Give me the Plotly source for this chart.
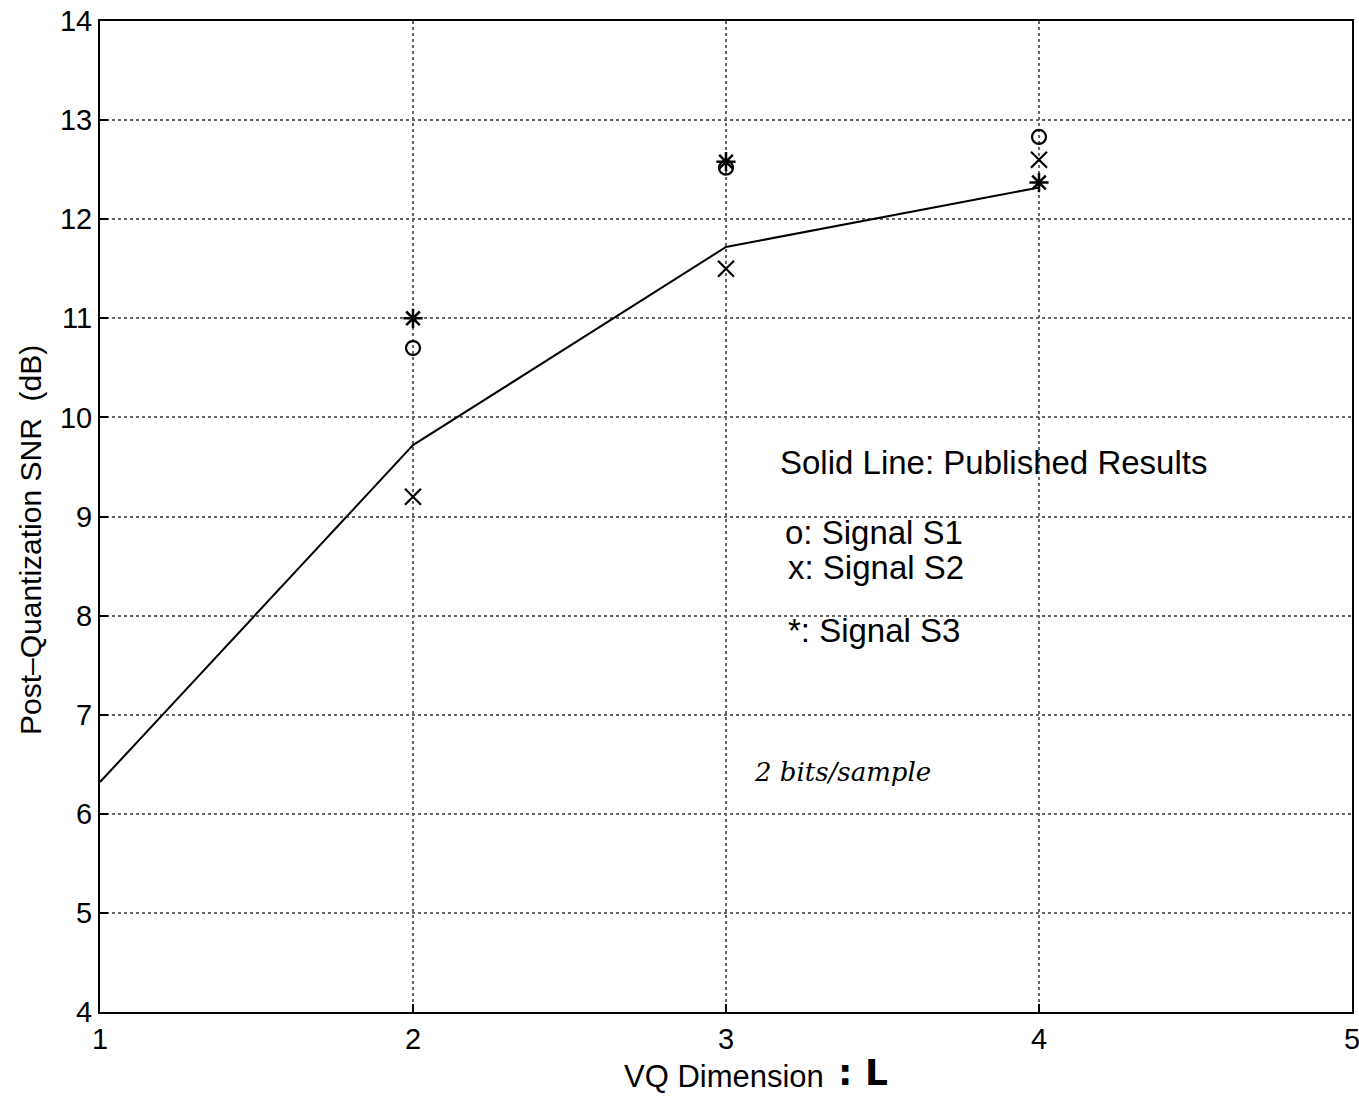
import plotly.graph_objects as go

# Data
dims = [1, 2, 3, 4]
published = [6.32, 9.72, 11.72, 12.32]
meas_dims = [2, 3, 4]
s1 = [10.7, 12.52, 12.83]
s2 = [9.2, 11.5, 12.6]
s3 = [11.0, 12.58, 12.37]
xticks = [1, 2, 3, 4, 5]
yticks = [4, 5, 6, 7, 8, 9, 10, 11, 12, 13, 14]

FONT = "Liberation Sans, Arial, sans-serif"

fig = go.Figure()
fig.add_trace(go.Scatter(x=dims, y=published, mode="lines",
                         line=dict(color="black", width=2), showlegend=False))
fig.add_trace(go.Scatter(x=meas_dims, y=s1, mode="markers",
                         marker=dict(symbol="circle-open", size=14, color="black",
                                     line=dict(width=2.2, color="black")), showlegend=False))
fig.add_trace(go.Scatter(x=meas_dims, y=s2, mode="markers",
                         marker=dict(symbol="x-thin-open", size=16, color="black",
                                     line=dict(width=2.2, color="black")), showlegend=False))
fig.add_trace(go.Scatter(x=meas_dims, y=s3, mode="markers",
                         marker=dict(symbol="asterisk-open", size=16, color="black",
                                     line=dict(width=2.5, color="black")), showlegend=False))

axis_common = dict(showline=True, linecolor="black", linewidth=2, mirror=True,
                   ticks="inside", ticklen=8, tickcolor="black", tickwidth=1.5,
                   showgrid=True, gridcolor="#666666", griddash="dot", gridwidth=1.5,
                   zeroline=False, automargin=False, ticklabeloverflow="allow",
                   tickfont=dict(family=FONT, size=29, color="black"))

fig.update_xaxes(range=[1, 5], tickvals=xticks, ticktext=[str(t) for t in xticks], **axis_common)
fig.update_yaxes(range=[4, 14], tickvals=yticks, ticktext=[str(t) for t in yticks], **axis_common)

def px_x(px):
    return (px - 100) / 1252.0

def px_y(py):
    return (1012 - py) / 991.0

annos = [
    dict(text="Solid Line: Published Results", x=px_x(778), y=px_y(462), xanchor="left", size=33),
    dict(text="o: Signal S1", x=px_x(783), y=px_y(532), xanchor="left", size=33),
    dict(text="x: Signal S2", x=px_x(786), y=px_y(567), xanchor="left", size=33),
    dict(text="*: Signal S3", x=px_x(786), y=px_y(630), xanchor="left", size=33),
    dict(text="VQ Dimension", x=px_x(724), y=px_y(1076), xanchor="center", size=31),
]
for a in annos:
    fig.add_annotation(text=a["text"], xref="paper", yref="paper", x=a["x"], y=a["y"],
                       xanchor=a["xanchor"], yanchor="middle", showarrow=False,
                       font=dict(family=FONT, size=a["size"], color="black"))

fig.add_annotation(text="<b>: L</b>", xref="paper", yref="paper", x=px_x(836), y=px_y(1072),
                   xanchor="left", yanchor="middle", showarrow=False,
                   font=dict(family="DejaVu Sans", size=36, color="black"))
fig.add_annotation(text="<i>2 bits/sample</i>", xref="paper", yref="paper", x=px_x(752), y=px_y(772),
                   xanchor="left", yanchor="middle", showarrow=False,
                   font=dict(family="DejaVu Serif", size=26, color="black"))
fig.add_annotation(text="Post\u2013Quantization SNR  (dB)", xref="paper", yref="paper",
                   x=px_x(30), y=px_y(540), xanchor="center", yanchor="middle",
                   textangle=-90, showarrow=False,
                   font=dict(family=FONT, size=30, color="black"))

fig.update_layout(width=1359, height=1096, margin=dict(l=100, r=7, t=21, b=84),
                  plot_bgcolor="white", paper_bgcolor="white")

# remove the default 8px body margin so the figure fills the window exactly
fig.write_html("out.html", config={"displayModeBar": False},
               post_script="document.body.style.margin='0';document.body.style.overflow='hidden';")
